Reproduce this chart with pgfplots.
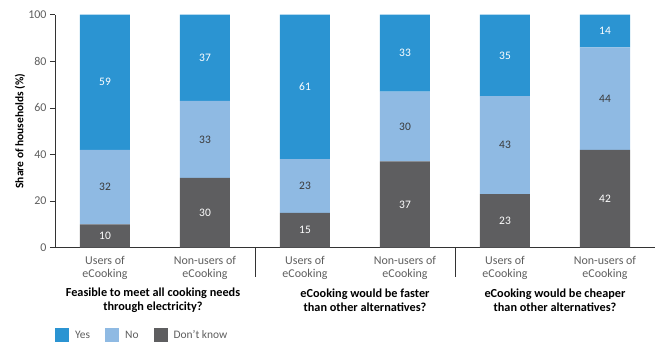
\documentclass[border=0pt]{standalone}
\usepackage{pgfplots}
\pgfplotsset{compat=1.18}
\usepackage{pgfplotstable}
\usepackage{fontspec}
\setmainfont{Carlito}
\definecolor{cyes}{HTML}{2B94D2}
\definecolor{cno}{HTML}{8FBAE3}
\definecolor{cdk}{HTML}{5E5E60}
\definecolor{ctick}{HTML}{5E5E5E}
\definecolor{caxis}{HTML}{333333}
\definecolor{clab}{HTML}{3A3A3A}

\pgfplotstableread{
x yes no dk yesl nol dkl
0 58 32 10 59 32 10
1 37 33 30 37 33 30
2 62 23 15 61 23 15
3 33 30 37 33 30 37
4 35 42 23 35 43 23
5 14 44 42 14 44 42
}\data

\pgfplotsset{
  sqlegend/.style={legend image code/.code={\fill[##1] (0bp,-7bp) rectangle (14bp,7bp);}},
}

\begin{document}
\begin{tikzpicture}
\useasboundingbox (-55bp,-99.3bp) rectangle (605bp,247.7bp);
\begin{axis}[
  at={(0pt,0pt)}, anchor=south west,
  width=600bp, height=233bp, scale only axis,
  ybar stacked, bar width=50bp,
  xmin=-0.5, xmax=5.5, ymin=0, ymax=100,
  clip=false,
  axis x line*=bottom, axis y line*=left,
  axis line style={caxis, line width=0.8pt},
  xtick={0,...,5},
  xticklabels={{Users of\\eCooking},{Non-users of\\eCooking},{Users of\\eCooking},{Non-users of\\eCooking},{Users of\\eCooking},{Non-users of\\eCooking}},
  x tick label style={align=center, text=ctick, font=\fontsize{12}{13.3}\selectfont, yshift=0bp},
  major x tick style={draw=none},
  extra x ticks={0.5,2.5,4.5,5.5},
  extra x tick labels={},
  extra x tick style={tick align=inside, major tick length=5bp, tick style={draw=caxis, line width=0.8pt}},
  ytick={0,20,...,100},
  y tick label style={text=ctick, font=\fontsize{12}{14}\selectfont},
  major y tick style={draw=caxis, line width=0.8pt},
  tick align=outside,
  major tick length=5bp,
  /pgf/number format/assume math mode=true,
  ylabel={\bfseries Share of households (\%)},
  ylabel style={at={(axis description cs:-0.0583,0.5)}, anchor=center, font=\fontsize{11.5}{13}\selectfont, text=black},
  reverse legend,
  legend columns=3,
  legend style={draw=none, fill=none, at={(axis description cs:0,-0.375)}, anchor=west,
    font=\fontsize{11.5}{13}\selectfont, text=ctick, inner xsep=0pt,
    /tikz/every odd column/.append style={column sep=4bp},
    /tikz/every even column/.append style={column sep=13bp}},
  nodes near coords,
  point meta=explicit,
  nodes near coords align=center,
  every node near coord/.append style={font=\fontsize{11.5}{13}\selectfont, anchor=center},
]
\addplot+[fill=cdk, draw=none, sqlegend,
  every node near coord/.append style={text=white}]
  table[x=x, y=dk, meta=dkl] {\data};
\addplot+[fill=cno, draw=none, sqlegend,
  every node near coord/.append style={text=clab}]
  table[x=x, y=no, meta=nol] {\data};
\addplot+[fill=cyes, draw=none, sqlegend,
  every node near coord/.append style={text=white}]
  table[x=x, y=yes, meta=yesl] {\data};
\legend{Don't know, No, Yes}
\draw[caxis, line width=0.8pt] (axis cs:1.5,0) -- ++(0pt,-29bp);
\draw[caxis, line width=0.8pt] (axis cs:3.5,0) -- ++(0pt,-29bp);
\node[align=center, font=\bfseries\fontsize{12.3}{14}\selectfont, text=black] at (axis cs:0.48,0) [yshift=-52.5bp] {Feasible to meet all cooking needs\\through electricity?};
\node[align=center, font=\bfseries\fontsize{12.3}{14}\selectfont, text=black] at (axis cs:2.6,0) [yshift=-52.5bp] {eCooking would be faster\\than other alternatives?};
\node[align=center, font=\bfseries\fontsize{12.3}{14}\selectfont, text=black] at (axis cs:4.5,0) [yshift=-52.5bp] {eCooking would be cheaper\\than other alternatives?};
\end{axis}
\end{tikzpicture}
\end{document}
